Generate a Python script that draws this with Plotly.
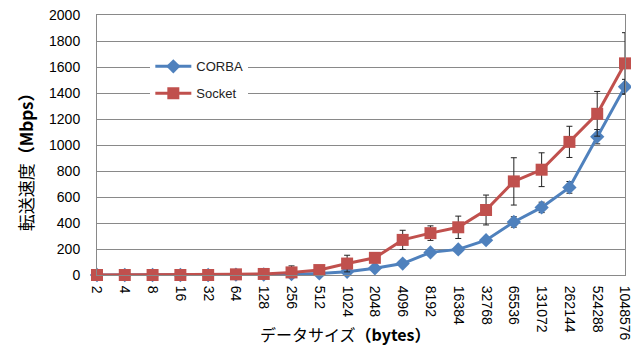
import plotly.graph_objects as go

sizes = ["2", "4", "8", "16", "32", "64", "128", "256", "512", "1024", "2048",
         "4096", "8192", "16384", "32768", "65536", "131072", "262144",
         "524288", "1048576"]
corba = [0, 0, 0, 0, 0, 3, 4, 6, 12, 25, 52, 88, 174, 197, 268, 408, 520, 674, 1064, 1448]
corba_err = [0, 0, 0, 0, 0, 2, 3, 4, 6, 10, 12, 15, 20, 20, 25, 40, 40, 45, 55, 57]
socket = [0, 0, 0, 0, 0, 5, 8, 20, 38, 88, 132, 270, 322, 367, 500, 720, 810, 1024, 1240, 1628]
socket_err = [0, 0, 0, 0, 0, 5, 40, 50, 30, 64, 20, 74, 56, 86, 115, 182, 130, 120, 172, 236]
y_ticks = [0, 200, 400, 600, 800, 1000, 1200, 1400, 1600, 1800, 2000]

fig = go.Figure()
fig.add_trace(go.Scatter(
    x=sizes, y=corba, name="CORBA", mode="lines+markers", legendgroup="c",
    line=dict(color="#4F81BD", width=3),
    marker=dict(symbol="diamond", size=11, color="#4F81BD"),
    error_y=dict(type="data", array=corba_err, visible=True,
                 color="#222222", thickness=1, width=3),
    cliponaxis=False,
))
fig.add_trace(go.Scatter(
    x=sizes, y=socket, name="Socket", mode="lines+markers", legendgroup="s",
    line=dict(color="#C0504D", width=3),
    marker=dict(symbol="square", size=12, color="#C0504D"),
    error_y=dict(type="data", array=socket_err, visible=True,
                 color="#222222", thickness=1, width=3),
    cliponaxis=False,
))

# page body has an 8px margin, so the figure is sized/offset to compensate
fig.update_layout(
    width=631, height=337,
    margin=dict(l=89, r=14, t=7, b=70, autoexpand=False),
    paper_bgcolor="white", plot_bgcolor="white",
    font=dict(family="Liberation Sans", size=14, color="#000000"),
    showlegend=True,
    legend=dict(x=0.101, y=0.86, xanchor="left", yanchor="top",
                bgcolor="white", font=dict(size=13, color="#222222"),
                tracegroupgap=7, itemwidth=36),
    xaxis=dict(type="category", range=[0, 19], showgrid=False, automargin=False,
               showline=True, linecolor="#898989", linewidth=1, mirror=True,
               tickangle=90, ticks="", tickfont=dict(size=14),
               ticklabelstandoff=7, ticklabeloverflow="allow", fixedrange=True),
    yaxis=dict(range=[0, 2000], tickmode="array", tickvals=y_ticks,
               showgrid=True, gridcolor="#898989",
               gridwidth=1, zeroline=False, automargin=False,
               showline=True, linecolor="#898989", linewidth=1, mirror=True,
               ticks="", tickfont=dict(size=14), ticklabelstandoff=13,
               ticklabeloverflow="allow"),
    annotations=[
        dict(text="転送速度<b>（Mbps）</b>", xref="paper", yref="paper",
             x=-0.136, y=0.45, xanchor="center", yanchor="middle",
             textangle=-90, showarrow=False,
             font=dict(family="Noto Sans CJK JP", size=17, color="#000000")),
        dict(text="データサイズ<b>（bytes）</b>", xref="paper", yref="paper",
             x=0.47, y=-0.228, xanchor="center", yanchor="middle",
             showarrow=False,
             font=dict(family="Noto Sans CJK JP", size=16, color="#000000")),
    ],
)

fig.write_html("out.html")
